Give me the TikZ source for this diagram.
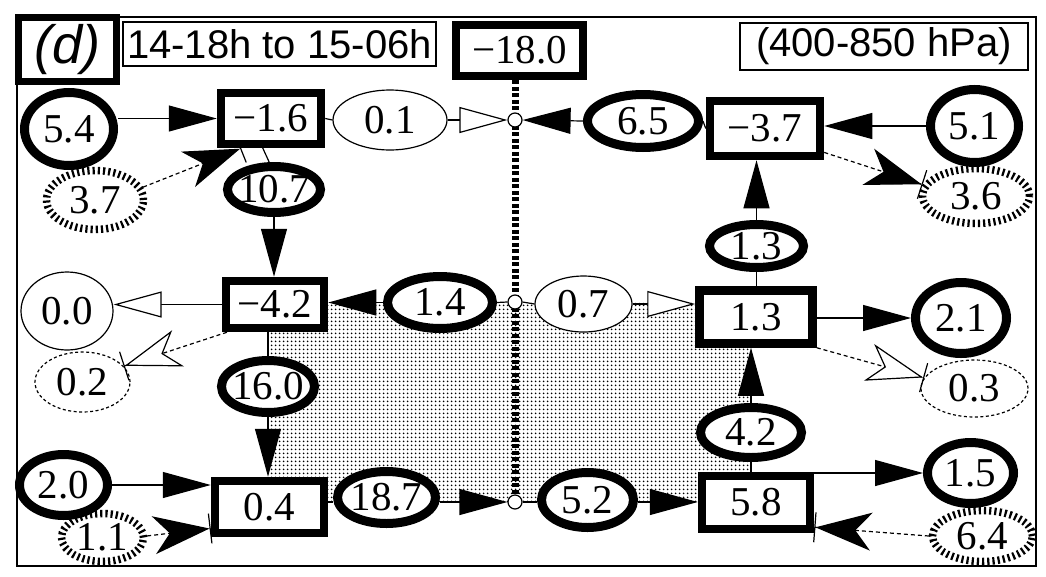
\documentclass[tikz,border=0pt]{standalone}
\usepackage{fontspec}
\setmainfont{Liberation Serif}
\newfontfamily\sansf{Liberation Sans}
\usetikzlibrary{shapes.geometric,arrows.meta,patterns.meta,calc}
\pgfdeclarelayer{bg}
\pgfdeclarelayer{mid}
\pgfsetlayers{bg,mid,main}
\newcommand\numf{\fontsize{41}{41}\selectfont}
\newcommand\zb[1]{\makebox[0pt]{#1}}
\begin{document}
\begin{tikzpicture}[x=1pt,y=-1pt,
  box/.style={rectangle,draw,line width=8.5pt,fill=white,inner sep=0pt,font=\numf},
  thk/.style={ellipse,draw,line width=9pt,fill=white,inner sep=0pt,font=\numf},
  thn/.style={ellipse,draw,line width=1.2pt,fill=white,inner sep=0pt,font=\numf},
  dsh/.style={ellipse,draw,line width=1.2pt,dash pattern=on 3pt off 2.5pt,inner sep=0pt,font=\numf},
  dotel/.style={ellipse,draw,line width=7.5pt,dash pattern=on 2.2pt off 3pt,inner sep=0pt,font=\numf},
  junc/.style={circle,draw,line width=1.2pt,fill=white,minimum size=14pt,inner sep=0pt},
  con/.style={line width=1.2pt},
  tri/.style={con,-{Triangle[length=48pt,width=26pt]}},
  otri/.style={con,-{Triangle[length=48pt,width=26pt,fill=white]}},
  barb/.style={con,dash pattern=on 4pt off 3pt,-{Stealth[length=56pt,width=38pt,inset=16pt]Bar[width=30pt]}},
  obarb/.style={con,dash pattern=on 4pt off 3pt,-{Stealth[length=56pt,width=38pt,inset=16pt,fill=white]Bar[width=30pt]}},
  vline/.style={line width=7pt,dash pattern=on 4pt off 2.5pt},
  sz/.style 2 args={minimum width=#1pt,minimum height=#2pt},
]
\useasboundingbox (0,0) rectangle (1046,576);

% titles
\node[rectangle,draw,line width=1.5pt,fill=white,inner sep=0pt,sz={313}{44},font=\sansf\fontsize{40}{40}\selectfont] (t1) at (279.5,44) {\zb{14-18h to 15-06h}};
\node[rectangle,draw,line width=1.5pt,fill=white,inner sep=0pt,sz={288}{47},font=\sansf\fontsize{40}{40}\selectfont] (t2) at (884,46.5) {\zb{(400-850 hPa)}};
\node[rectangle,draw,line width=7.5pt,fill=white,inner sep=0pt,sz={98}{64},font=\sansf\itshape\fontsize{54}{54}\selectfont] (lab) at (67.5,49.5) {\zb{(d)}};
\node[box,sz={127}{51}] (m180) at (519.5,50.5) {\zb{−18.0}};

% dotted / dashed ellipses first
\node[dotel,sz={97}{59}] (e37) at (95,200) {\zb{3.7}};
\node[dotel,sz={107}{55}] (e36) at (976,196) {\zb{3.6}};
\node[dotel,sz={82}{48}] (e11) at (102.5,537.5) {\zb{1.1}};
\node[dotel,sz={100}{51}] (e64) at (982.5,536) {\zb{6.4}};
\node[dsh,sz={95}{60}] (e02) at (82.5,382) {\zb{0.2}};
\node[dsh,sz={107}{57}] (e03) at (974.5,388.5) {\zb{0.3}};

% boxes
\node[box,sz={100}{51}] (m16) at (271,118.5) {\zb{−1.6}};
\node[box,sz={110}{55}] (m37) at (765,128.5) {\zb{−3.7}};
\node[box,sz={98}{47}] (m42) at (275,304.5) {\zb{−4.2}};
\node[box,sz={113}{53}] (b13) at (756,317) {\zb{1.3}};
\node[box,sz={109}{52}] (b04) at (269.5,507) {\zb{0.4}};
\node[box,sz={108}{53}] (b58) at (756,502.5) {\zb{5.8}};

% thick ellipses
\node[thk,sz={89}{73}] (e54) at (69,129) {\zb{5.4}};
\node[thk,sz={93}{46}] (e107) at (274,189.5) {\zb{10.7}};
\node[thk,sz={111}{53}] (e65) at (643,121) {\zb{6.5}};
\node[thk,sz={88}{73}] (e51) at (974.5,126) {\zb{5.1}};
\node[thk,sz={94}{43}] (e13u) at (756.5,246) {\zb{1.3}};
\node[thk,sz={105}{52}] (e14) at (440,302.5) {\zb{1.4}};
\node[thk,sz={91}{71}] (e21) at (961,318) {\zb{2.1}};
\node[thk,sz={93}{52}] (e160) at (268,386.5) {\zb{16.0}};
\node[thk,sz={101}{50}] (e42) at (751,432.5) {\zb{4.2}};
\node[thk,sz={88}{61}] (e20) at (63.5,485) {\zb{2.0}};
\node[thk,sz={98}{52}] (e187) at (386.5,497.5) {\zb{18.7}};
\node[thk,sz={92}{55}] (e52) at (587.5,500) {\zb{5.2}};
\node[thk,sz={86}{61}] (e15) at (970.5,473) {\zb{1.5}};

% thin ellipses
\node[thn,sz={114}{60}] (e01) at (390,120) {\zb{0.1}};
\node[thn,sz={92}{78}] (e00) at (67,311) {\zb{0.0}};
\node[thn,sz={97}{56}] (e07) at (583.5,304) {\zb{0.7}};

% junctions
\node[junc] (c1) at (515,120) {};
\node[junc] (c2) at (515,302) {};
\node[junc] (c3) at (515,502) {};

\coordinate (k) at (255,131);

\begin{pgfonlayer}{bg}
  \draw[line width=1.5pt] (17,17) rectangle (1036,566);
  \fill[pattern={Dots[distance=4pt,radius=1.15pt]},pattern color=black] (268,302) rectangle (751,502);
\end{pgfonlayer}

\begin{pgfonlayer}{mid}
  \draw[vline] (c1 |- m180.south) -- (c3);
  % top row
  \draw[tri] (m16.west -| e54.east) -- (m16.west);
  \draw[con] (m16.east) -- (e01.west);
  \draw[otri] (e01.east) -- (c1.west);
  \draw[con] (m37.west) -- (e65.east);
  \draw[tri] (e65.west) -- (c1.east);
  \draw[tri] (e51.west) -- (e51.west -| m37.east);
  % left column
  \draw[con] (k) -- (e107.100);
  \draw[tri] (e107.south) -- (e107.south |- m42.north);
  \draw[con] (e160.north |- m42.south) -- (e160.north);
  \draw[tri] (e160.south) -- (e160.south |- b04.north);
  % middle row
  \draw[tri] (e14.west) -- (e14.west -| m42.east);
  \draw[con] (e14.east) -- (c2.west);
  \draw[con] (c2.east) -- (e07.west);
  \draw[otri] (e07.east) -- (e07.east -| b13.west);
  \draw[otri] (m42.west) -- (m42.west -| e00.east);
  \draw[tri] (b13.east |- e21.west) -- (e21.west);
  % right column
  \draw[con] (e42.south |- b58.north) -- (e42.south);
  \draw[tri] (e42.north) -- (e42.north |- b13.south);
  \draw[con] (e13u.south |- b13.north) -- (e13u.south);
  \draw[tri] (e13u.north) -- (e13u.north |- m37.south);
  % bottom row
  \draw[tri] (e20.east) -- (e20.east -| b04.west);
  \draw[con] (b04.east |- c3) -- (e187.west |- c3);
  \draw[tri] (e187.east |- c3) -- (c3.west);
  \draw[con] (c3.east) -- (e52.west |- c3);
  \draw[tri] (e52.east |- c3) -- (b58.west |- c3);
  \draw[tri] (b58.east |- e15.west) -- (e15.west);
  % dashed transfers
  \draw[barb] (e37.15) -- (m16.-135);
  \draw[barb] (m37.-22.5) -- (e36.168);
  \draw[obarb] (m42.-150) -- (e02.21);
  \draw[obarb] (b13.south east) -- (e03.168);
  \draw[barb] (e11.2) -- (b04.-160);
  \draw[barb] (e64.west) -- (b58.-23);
\end{pgfonlayer}
\end{tikzpicture}
\end{document}
